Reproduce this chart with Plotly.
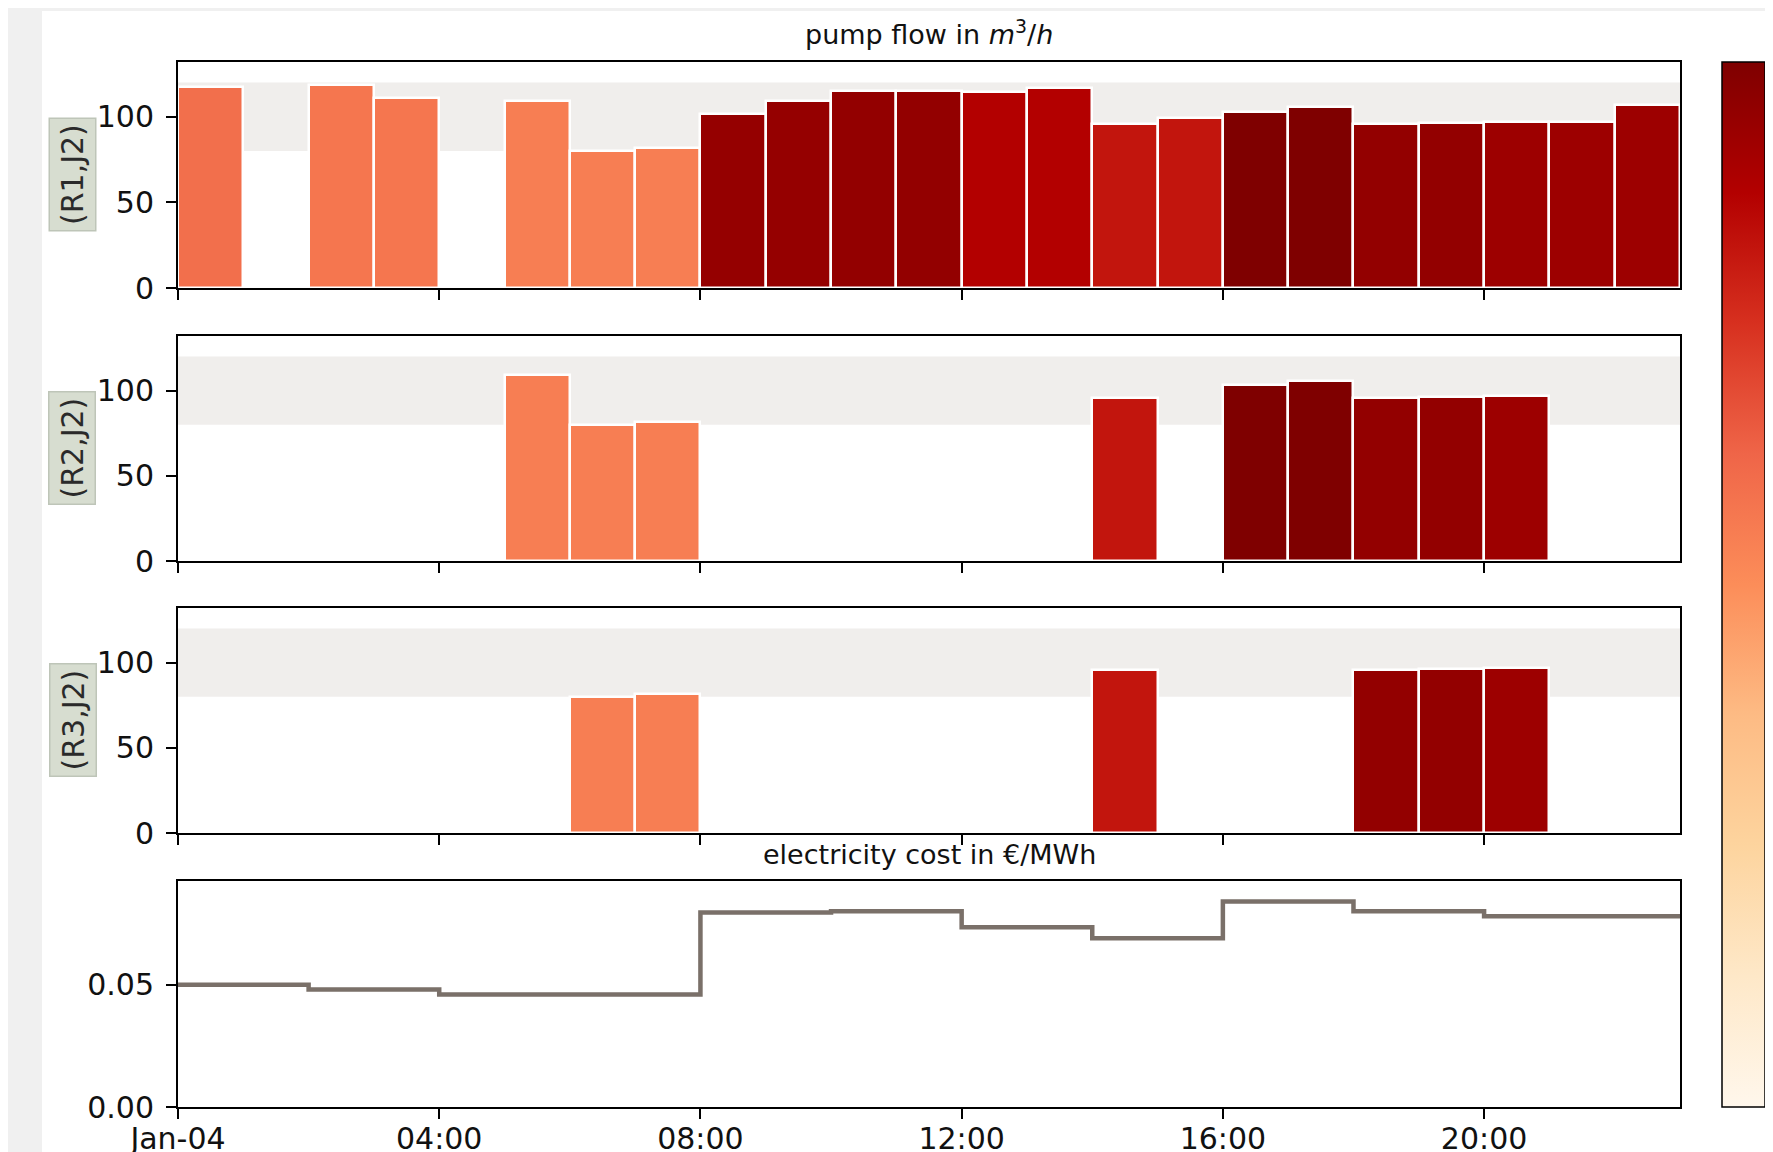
import plotly.graph_objects as go

# ---------------- data ----------------
hours = [f"2021-01-04 {h:02d}:00" for h in range(23)]
hours_cost = [f"2021-01-04 {h:02d}:00" for h in range(24)]

flow_R1 = [117.5, None, 118.5, 110.7, None, 109.2, 79.8, 81.6, 101.9, 109.5, 115.3, 115.3,
           114.5, 116.6, 95.7, 99.5, 103.0, 105.6, 95.7, 96.3, 96.7, 96.7, 107.1]
flow_R2 = [None, None, None, None, None, 109.2, 79.8, 81.6, None, None, None, None,
           None, None, 95.7, None, 103.0, 105.6, 95.7, 96.3, 96.7, None, None]
flow_R3 = [None, None, None, None, None, None, 79.8, 81.6, None, None, None, None,
           None, None, 95.7, None, None, None, 95.7, 96.3, 96.7, None, None]

cost = [0.050, 0.050, 0.048, 0.048, 0.046, 0.046, 0.046, 0.046, 0.0795, 0.0795, 0.080, 0.080,
        0.0735, 0.0735, 0.069, 0.069, 0.084, 0.084, 0.080, 0.080, 0.078, 0.078, 0.078, 0.078]

panel_labels = ["(R1,J2)", "(R2,J2)", "(R3,J2)"]
tick_hours = ["2021-01-04 00:00", "2021-01-04 04:00", "2021-01-04 08:00",
              "2021-01-04 12:00", "2021-01-04 16:00", "2021-01-04 20:00"]
tick_text = ["Jan-04", "04:00", "08:00", "12:00", "16:00", "20:00"]
band = (80, 120)
flow_max = 132
cost_max = 0.084

# ---------------- geometry (figure pixel coords) ----------------
W, H = 1765, 1144
L, R, T, B = 170, 93, 54, 45
PW, PH = W - L - R, H - T - B


def py(px):  # pixel y -> paper y
    return (H - B - px) / PH


def pxx(px):  # pixel x -> paper x
    return (px - L) / PW


domains = [(py(280), py(54)), (py(553), py(328)), (py(825), py(600)), (py(1099), py(873))]

FONT = "DejaVu Sans"
TICK_SIZE = 30
fig = go.Figure()

bar_colors = cost[:23]
for i, flows in enumerate([flow_R1, flow_R2, flow_R3]):
    fig.add_trace(go.Bar(
        x=hours, y=flows, offset=0, width=3600000,
        xaxis=f"x{i + 1}" if i else "x", yaxis=f"y{i + 1}" if i else "y",
        marker=dict(color=bar_colors, colorscale="OrRd", cmin=0, cmax=cost_max,
                    line=dict(color="white", width=2.5),
                    showscale=(i == 0),
                    colorbar=dict(x=pxx(1714), xanchor="left", xpad=0, ypad=0,
                                  y=0.5, yanchor="middle", len=1, lenmode="fraction",
                                  thickness=43, thicknessmode="pixels",
                                  showticklabels=False, ticks="",
                                  outlinewidth=1.5, outlinecolor="black")),
        showlegend=False, hoverinfo="x+y",
    ))

fig.add_trace(go.Scatter(
    x=hours_cost, y=cost, mode="lines", line_shape="hv",
    line=dict(color="rgb(122,112,105)", width=4.5),
    xaxis="x4", yaxis="y4", showlegend=False,
))

axis_common = dict(showline=True, mirror=True, linecolor="black", linewidth=2,
                   ticks="outside", ticklen=10, tickwidth=2, tickcolor="black",
                   showgrid=False, zeroline=False, automargin=False,
                   tickfont=dict(family=FONT, size=TICK_SIZE, color="#111"))

layout = dict(
    width=W, height=H,
    margin=dict(l=L, r=R, t=T, b=B, pad=0, autoexpand=False),
    paper_bgcolor="#f0f0f0", plot_bgcolor="white",
    font=dict(family=FONT, size=TICK_SIZE, color="#111"),
    bargap=0, showlegend=False,
)
for i in range(4):
    sx = "" if i == 0 else str(i + 1)
    layout[f"xaxis{sx}"] = dict(
        axis_common, type="date", domain=[0, 1], anchor=f"y{sx}",
        range=["2021-01-04 00:00", "2021-01-04 23:00"],
        tickmode="array", tickvals=tick_hours, ticktext=tick_text,
        showticklabels=(i == 3), ticklabelstandoff=-6,
    )
    if i < 3:
        layout[f"yaxis{sx}"] = dict(axis_common, domain=list(domains[i]), anchor=f"x{sx}",
                                    range=[0, flow_max], tickvals=[0, 50, 100],
                                    ticklabelstandoff=6)
    else:
        layout[f"yaxis{sx}"] = dict(axis_common, domain=list(domains[i]), anchor=f"x{sx}",
                                    range=[0, cost_max * 1.1], tickvals=[0, 0.05],
                                    ticktext=["0.00", "0.05"], tickmode="array",
                                    ticklabelstandoff=6)
fig.update_layout(**layout)

shapes = [dict(type="rect", xref="paper", yref="paper", layer="below",
               x0=pxx(34), x1=pxx(1757), y0=py(1170), y1=py(3),
               fillcolor="white", line=dict(width=0))]
for i in range(3):
    sx = "" if i == 0 else str(i + 1)
    shapes.append(dict(type="rect", xref=f"x{sx} domain", yref=f"y{sx}", layer="below",
                       x0=0, x1=1, y0=band[0], y1=band[1],
                       fillcolor="rgb(240,238,236)", line=dict(width=0)))
fig.update_layout(shapes=shapes)

annotations = [
    dict(text="pump flow in <i>m</i><sup>3</sup>/<i>h</i>", xref="paper", yref="paper",
         x=0.5, y=py(24), xanchor="center", yanchor="middle", showarrow=False,
         font=dict(family=FONT, size=27, color="#111")),
    dict(text="electricity cost in €/MWh", xref="paper", yref="paper",
         x=0.5, y=py(846), xanchor="center", yanchor="middle", showarrow=False,
         font=dict(family=FONT, size=27, color="#111")),
]
for i, lab in enumerate(panel_labels):
    annotations.append(dict(
        text=lab, xref="paper", yref="paper", x=pxx(64.5), y=sum(domains[i]) / 2,
        xanchor="center", yanchor="middle", textangle=-90, showarrow=False,
        font=dict(family=FONT, size=30, color="#2a2a2a"),
        bgcolor="rgb(215,221,208)", bordercolor="rgb(190,197,184)", borderwidth=1.5,
        borderpad=5,
    ))
fig.update_layout(annotations=annotations)

fig.write_html("out.html")
